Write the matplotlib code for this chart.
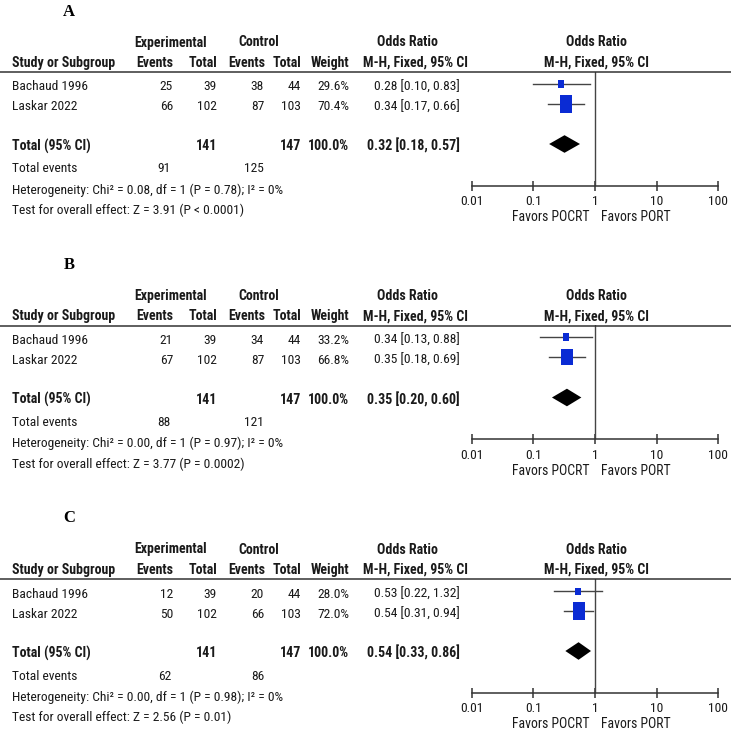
import numpy as np
import matplotlib.pyplot as plt
from matplotlib.lines import Line2D

plt.rcParams['font.family'] = ['Liberation Sans Narrow', 'Roboto Condensed',
                               'Barlow Semi Condensed', 'DejaVu Sans']
plt.rcParams['font.size'] = 9.7

# data for the three panels
panel_labels = ['A', 'B', 'C']
studies = ['Bachaud 1996', 'Laskar 2022']

exp_events = [[25, 66], [21, 67], [12, 50]]
exp_total = [39, 102]
ctl_events = [[38, 87], [34, 87], [20, 66]]
ctl_total = [44, 103]
weights = [[29.6, 70.4], [33.2, 66.8], [28.0, 72.0]]
odds = [[0.28, 0.34], [0.34, 0.35], [0.53, 0.54]]
ci_low = [[0.10, 0.17], [0.13, 0.18], [0.22, 0.31]]
ci_high = [[0.83, 0.66], [0.88, 0.69], [1.32, 0.94]]

pooled_or = [0.32, 0.35, 0.54]
pooled_low = [0.18, 0.20, 0.33]
pooled_high = [0.57, 0.60, 0.86]
sum_exp_total = 141
sum_ctl_total = 147
sum_exp_events = [91, 88, 62]
sum_ctl_events = [125, 121, 86]
chi2 = ['0.08', '0.00', '0.00']
p_het = ['0.78', '0.97', '0.98']
i2 = ['0%', '0%', '0%']
z_val = ['3.91', '3.77', '2.56']
p_z = ['P < 0.0001', 'P = 0.0002', 'P = 0.01']

tick_vals = [0.01, 0.1, 1, 10, 100]
tick_labels = ['0.01', '0.1', '1', '10', '100']

W = H = 731
fig = plt.figure(figsize=(W / 100, H / 100), dpi=100)
txt_col = '#1a1a1a'
blue = '#0a2bd4'

def pos(x, y):
    return x / W, 1 - y / H

def put(x, y, s, ha='left', bold=False, **kw):
    # bold header text looks a bit larger in the original
    fig.text(*pos(x, y), s, ha=ha, va='center', color=txt_col,
             fontweight='bold' if bold else 'normal',
             fontsize=10 if bold else 9.7, **kw)

# rectangle marker, a bit taller than wide
box = [(-0.36, -0.5), (0.36, -0.5), (0.36, 0.5), (-0.36, 0.5), (-0.36, -0.5)]

panel_step = 253.5
for p in range(3):
    off = p * panel_step

    # panel letter
    fig.text(*pos(69, 11.5 + off), panel_labels[p], ha='center', va='center',
             family='Liberation Serif', fontweight='bold', fontsize=12, color='black')

    # headers
    put(171, 42.5 + off, 'Experimental', ha='center', bold=True)
    put(259, 42.5 + off, 'Control', ha='center', bold=True)
    put(407, 42.5 + off, 'Odds Ratio', ha='center', bold=True)
    put(596, 42.5 + off, 'Odds Ratio', ha='center', bold=True)
    put(11.5, 63 + off, 'Study or Subgroup', bold=True)
    put(173, 63 + off, 'Events', ha='right', bold=True)
    put(217, 63 + off, 'Total', ha='right', bold=True)
    put(265.5, 63 + off, 'Events', ha='right', bold=True)
    put(301, 63 + off, 'Total', ha='right', bold=True)
    put(349, 63 + off, 'Weight', ha='right', bold=True)
    put(415.5, 63 + off, 'M-H, Fixed, 95% CI', ha='center', bold=True)
    put(597, 63 + off, 'M-H, Fixed, 95% CI', ha='center', bold=True)

    fig.add_artist(Line2D([0, 1], [1 - (72 + off) / H] * 2, color='#333333', lw=1.1))

    # study rows
    for i, name in enumerate(studies):
        y = 87 + 20 * i + off
        put(11.5, y, name)
        put(173, y, str(exp_events[p][i]), ha='right')
        put(217, y, str(exp_total[i]), ha='right')
        put(264, y, str(ctl_events[p][i]), ha='right')
        put(301, y, str(ctl_total[i]), ha='right')
        put(349, y, '%.1f%%' % weights[p][i], ha='right')
        put(460, y, '%.2f [%.2f, %.2f]' % (odds[p][i], ci_low[p][i], ci_high[p][i]), ha='right')

    # total rows
    y = 146 + off
    put(11.5, y, 'Total (95% CI)', bold=True)
    put(217, y, str(sum_exp_total), ha='right', bold=True)
    put(301, y, str(sum_ctl_total), ha='right', bold=True)
    put(349, y, '100.0%', ha='right', bold=True)
    put(460, y, '%.2f [%.2f, %.2f]' % (pooled_or[p], pooled_low[p], pooled_high[p]),
        ha='right', bold=True)
    put(11.5, 169 + off, 'Total events')
    put(171, 169 + off, str(sum_exp_events[p]), ha='right')
    put(264, 169 + off, str(sum_ctl_events[p]), ha='right')
    put(11.5, 190 + off, 'Heterogeneity: Chi\u00b2 = %s, df = 1 (P = %s); I\u00b2 = %s'
        % (chi2[p], p_het[p], i2[p]))
    put(11.5, 210.5 + off, 'Test for overall effect: Z = %s (%s)' % (z_val[p], p_z[p]))

    # forest plot axes
    left, right = 471.7, 718.4
    top, bottom = 72 + off, 185.5 + off
    ax = fig.add_axes([left / W, 1 - bottom / H, (right - left) / W, (bottom - top) / H])
    ax.set_xscale('log')
    ax.set_xlim(0.01, 100)
    ax.set_ylim((185.5 - 84) / 20, (72 - 84) / 20)
    ax.patch.set_alpha(0)
    for s in ['top', 'left', 'right']:
        ax.spines[s].set_visible(False)
    ax.spines['bottom'].set_color('#333333')
    ax.spines['bottom'].set_linewidth(1.1)
    ax.set_yticks([])
    ax.set_xticks(tick_vals)
    ax.set_xticklabels(tick_labels)
    ax.minorticks_off()
    ax.tick_params(axis='x', direction='inout', length=7, width=1.1, color='#333333',
                   labelcolor=txt_col, labelsize=9.7, pad=3.6)
    ax.axvline(1, color='#444444', lw=1)

    rows = np.arange(len(studies))
    for i in rows:
        ax.plot([ci_low[p][i], ci_high[p][i]], [i, i], color='#444444', lw=1)
        ax.plot(odds[p][i], i, marker=box, color=blue, markeredgewidth=0,
                markersize=0.18 * weights[p][i], linestyle='none')

    yt = 3
    h = 0.44
    ax.fill([pooled_low[p], pooled_or[p], pooled_high[p], pooled_or[p]],
            [yt, yt - h, yt, yt + h], color='black', lw=0)

    ax.annotate('Favors POCRT', xy=(1, 0), xycoords=('data', 'axes fraction'),
                xytext=(-4, -23), textcoords='offset points', fontsize=9.9,
                ha='right', va='center', color=txt_col)
    ax.annotate('Favors PORT', xy=(1, 0), xycoords=('data', 'axes fraction'),
                xytext=(4, -23), textcoords='offset points', fontsize=9.9,
                ha='left', va='center', color=txt_col)

plt.savefig('out.png', dpi=100)
